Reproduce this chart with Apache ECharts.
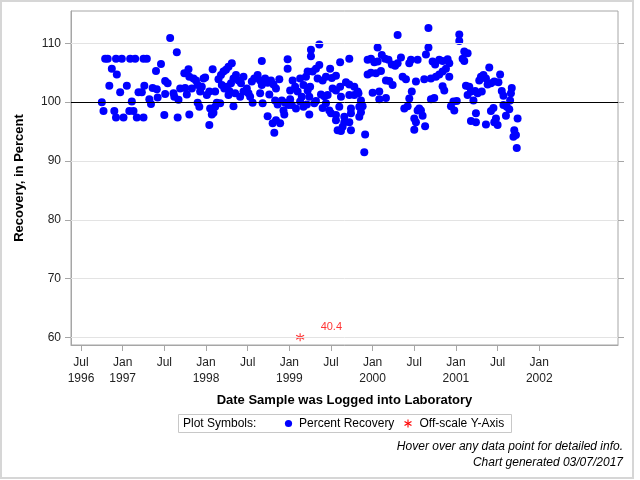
<!DOCTYPE html>
<html>
<head>
<meta charset="utf-8">
<script src="https://cdn.jsdelivr.net/npm/echarts@6/dist/echarts.min.js"></script>
<style>
html,body{margin:0;padding:0;background:#fff;}
#chart{width:640px;height:480px;}
</style>
</head>
<body>
<div id="chart"></div>
<script>
// Sample log dates as decimal years
var sampleDates = [
1996.75,1996.77,1996.79,1996.82,1996.84,1996.87,1996.90,1996.92,1996.92,1996.93,
1996.97,1996.99,1997.01,1997.05,1997.08,1997.09,1997.11,1997.13,1997.15,1997.17,
1997.19,1997.23,1997.25,1997.25,1997.26,1997.29,1997.32,1997.34,1997.36,1997.40,
1997.41,1997.42,1997.46,1997.50,1997.51,1997.51,1997.54,1997.57,1997.61,1997.62,
1997.65,1997.66,1997.67,1997.69,1997.75,1997.74,1997.79,1997.80,1997.80,1997.77,
1997.83,1997.85,1997.88,1997.90,1997.90,1997.92,1997.93,1997.97,1997.95,
1997.99,1998.01,1998.04,1998.08,1998.11,1998.05,1998.09,1998.07,1998.11,1998.13,
1998.17,1998.04,1998.15,1998.18,1998.21,1998.24,1998.27,1998.31,1998.19,1998.22,
1998.25,1998.28,1998.30,1998.33,1998.36,1998.39,1998.42,1998.45,1998.33,1998.27,
1998.35,1998.41,1998.45,1998.49,1998.51,1998.53,1998.56,1998.55,1998.58,1998.62,
1998.65,1998.67,1998.71,1998.74,1998.78,1998.81,1998.84,1998.88,1998.67,1998.68,
1998.65,1998.76,1998.83,1998.86,1998.74,1998.80,1998.84,1998.89,1998.82,1998.93,
1998.94,1998.91,1998.95,1998.99,1998.98,1998.98,1999.01,1999.04,1999.07,1999.10,
1999.13,1999.17,1999.20,1999.22,1999.25,1999.03,1999.08,1999.13,1999.17,1999.21,
1999.24,1999.26,1999.26,1999.01,1999.15,
1999.36,1999.22,1999.28,1999.32,1999.36,1999.34,1999.40,1999.44,1999.51,1999.56,
1999.49,1999.61,1999.72,1999.24,1999.30,1999.32,1999.38,1999.42,1999.46,1999.52,
1999.56,1999.61,1999.62,1999.68,1999.72,1999.78,1999.82,1999.72,1999.78,1999.83,
1999.86,1999.40,1999.44,1999.48,1999.50,1999.56,1999.60,1999.66,1999.66,1999.72,
1999.74,1999.74,1999.84,1999.84,1999.86,1999.88,1999.56,1999.58,1999.62,1999.64,
1999.74,1999.91,1999.90,2000.30,2000.06,1999.94,1999.98,2000.02,2000.06,2000.11,
2000.15,2000.19,2000.23,2000.27,2000.30,2000.34,2000.44,2000.46,2000.54,1999.94,
1999.98,2000.04,2000.10,2000.16,2000.20,2000.24,2000.36,2000.40,2000.52,2000.00,
2000.08,2000.08,2000.16,2000.38,2000.42,2000.44,2000.47,2000.54,2000.50,2000.50,
2000.67,2000.67,2000.64,2000.72,2000.75,2000.80,2000.84,2000.90,2000.92,2000.88,
2000.84,2000.80,2000.76,2000.70,2000.62,2000.92,2000.84,2000.86,2000.70,2000.74,
2000.56,2000.58,2000.60,2000.63,2000.52,2000.94,2000.97,2001.01,2000.98,2001.04,
2001.04,2001.10,2001.14,2001.08,2001.10,2001.12,2001.16,2001.14,2001.18,2001.21,
2001.23,2001.26,2001.31,2001.28,2001.30,2001.33,2001.36,2001.38,2001.40,2001.42,
2001.46,2001.53,2001.51,2001.24,2001.18,2001.24,2001.36,2001.45,2001.42,2001.48,
2001.46,2001.50,2001.60,2001.55,2001.57,2001.67,2001.66,2001.65,2001.57,2001.61,
2001.64,2001.74,2001.70,2001.72,2001.69,2001.73
];
// Percent recovery values
var recovery = [
100.0,98.5,107.4,107.4,102.8,105.7,98.5,107.4,97.4,104.7,
101.7,107.4,97.4,102.8,98.5,107.4,100.1,98.5,107.4,97.4,
101.7,101.7,107.4,97.4,102.8,107.4,100.5,99.7,102.4,105.3,
102.2,100.8,106.5,97.8,103.6,101.4,103.2,110.9,101.5,100.9,
108.5,97.4,100.4,102.3,102.4,104.9,105.6,104.3,97.9,101.3,
102.3,104.0,103.7,99.9,102.9,99.2,101.8,104.0,102.6,
104.2,101.2,101.8,105.6,101.8,98.9,98.2,97.9,99.2,99.9,
99.8,96.1,103.9,104.6,105.2,105.5,106.0,106.6,102.9,102.3,
102.6,101.9,103.2,104.0,104.6,103.7,103.2,104.3,99.3,101.2,
101.5,100.9,101.8,102.3,101.5,100.9,99.9,103.5,104.0,104.6,
103.7,102.9,104.0,103.3,103.7,103.0,102.3,103.9,107.0,99.8,
101.5,101.3,100.3,99.6,97.6,96.4,96.9,96.4,94.8,98.6,
97.9,100.3,99.9,99.5,107.3,105.7,102.0,103.7,102.6,101.8,
104.0,102.9,104.3,102.0,102.6,99.5,98.9,100.1,99.2,99.6,
97.9,108.9,107.8,100.5,100.9,
109.8,105.2,105.2,105.7,106.3,104.0,103.7,104.3,104.1,104.5,
105.7,106.8,107.4,100.9,99.8,100.2,101.3,101.0,101.2,102.3,
102.0,102.6,100.9,103.4,103.0,102.6,101.8,101.2,101.2,101.5,
100.3,99.0,99.8,98.6,98.1,97.8,99.2,97.5,96.6,96.6,
98.1,98.9,99.2,97.5,98.3,99.3,96.9,95.2,95.1,95.8,
95.2,94.5,91.5,111.4,109.3,107.2,107.4,106.8,106.9,108.0,
107.4,107.2,106.4,106.2,106.6,107.6,106.6,107.2,107.2,104.7,
105.0,104.9,105.3,103.7,103.6,102.9,104.3,103.9,103.5,101.6,
101.8,100.5,100.7,98.9,99.3,100.6,101.8,98.6,97.2,95.3,
112.6,109.3,108.1,106.9,106.4,107.2,107.0,107.3,106.6,105.7,
105.2,104.7,104.3,104.0,103.9,104.3,102.7,102.0,100.5,100.7,
98.9,98.6,97.7,95.9,96.6,99.3,100.1,100.2,98.6,111.5,
110.4,108.6,108.3,107.4,107.0,102.8,102.6,101.2,101.8,100.3,
101.9,101.5,101.8,103.7,104.3,104.6,104.0,103.0,105.9,103.2,
103.5,104.7,103.4,98.1,96.8,96.6,96.2,99.0,98.5,97.2,
96.6,96.1,97.7,101.9,101.1,102.4,101.5,100.3,99.5,99.2,
98.8,97.2,95.2,94.4,94.1,92.2
];
// Off-scale point (plotted at the axis floor, true value as label)
var offDates = [1999.13];
var offPlotted = [60];
var offActual = ['40.4'];

var xTickValues = [1996.5,1997,1997.5,1998,1998.5,1999,1999.5,2000,2000.5,2001,2001.5,2002];
var xTickLabels = ['Jul\n1996','Jan\n1997','Jul','Jan\n1998','Jul','Jan\n1999','Jul','Jan\n2000','Jul','Jan\n2001','Jul','Jan\n2002'];
var yTickValues = [60,70,80,90,100,110];
var referenceValue = 100;

var FONT = '"Liberation Sans", Arial, Helvetica, sans-serif';
var GREY = '#a6a6a6';

var points = sampleDates.map(function(d,i){ return [d, recovery[i]]; });
var offPoints = offDates.map(function(d,i){ return [d, offPlotted[i], offActual[i]]; });

var gridLines = yTickValues.filter(function(v){return v!==referenceValue;}).map(function(v){
  return {yAxis: v, lineStyle:{color:'#e3e3e3', width:1, type:'solid'}};
});
gridLines.push({yAxis: referenceValue, lineStyle:{color:'#000', width:1, type:'solid'}});

var asteriskPath = 'path://M0,-5L0,5M-4.33,-2.5L4.33,2.5M-4.33,2.5L4.33,-2.5';

function asteriskLines(cx, cy, r){
  var a = r*0.866, b = r*0.5;
  var st = {stroke:'#ff0000', lineWidth:1.1};
  return [
    {type:'line', shape:{x1:cx, y1:cy-r, x2:cx, y2:cy+r}, style:st, silent:true},
    {type:'line', shape:{x1:cx-a, y1:cy-b, x2:cx+a, y2:cy+b}, style:st, silent:true},
    {type:'line', shape:{x1:cx-a, y1:cy+b, x2:cx+a, y2:cy-b}, style:st, silent:true}
  ];
}

var graphics = [
  {type:'rect', shape:{x:1, y:1, width:632, height:477}, style:{fill:'none', stroke:'#d6d6d6', lineWidth:2}, silent:true},
  {type:'rect', shape:{x:178.5, y:414.5, width:333, height:18}, style:{fill:'none', stroke:'#c8c8c8', lineWidth:1}, silent:true},
  {type:'text', x:183, y:423.5, style:{text:'Plot Symbols:', font:'12px '+FONT, fill:'#000', verticalAlign:'middle', align:'left'}},
  {type:'circle', shape:{cx:288.5, cy:423.5, r:3.6}, style:{fill:'#0000ff'}},
  {type:'text', x:299, y:423.5, style:{text:'Percent Recovery', font:'12px '+FONT, fill:'#000', verticalAlign:'middle', align:'left'}},
  {type:'text', x:419.5, y:423.5, style:{text:'Off-scale Y-Axis', font:'12px '+FONT, fill:'#000', verticalAlign:'middle', align:'left'}},
  {type:'text', x:623, y:446.5, style:{text:'Hover over any data point for detailed info.', font:'italic 12px '+FONT, fill:'#000', verticalAlign:'middle', align:'right'}},
  {type:'text', x:623, y:462.5, style:{text:'Chart generated 03/07/2017', font:'italic 12px '+FONT, fill:'#000', verticalAlign:'middle', align:'right'}}
].concat(asteriskLines(408, 423.5, 4));

var chart = echarts.init(document.getElementById('chart'), null, {renderer:'canvas'});
chart.setOption({
  animation:false,
  backgroundColor:'#fff',
  textStyle:{fontFamily:FONT},
  grid:{left:71, right:22, top:11, bottom:135, show:true, borderColor:GREY, borderWidth:1, backgroundColor:'transparent'},
  xAxis:{
    type:'value', min:1996.38, max:2002.945,
    axisLine:{show:true, lineStyle:{color:GREY}},
    axisTick:{show:true, customValues:xTickValues, length:6, lineStyle:{color:GREY}},
    axisLabel:{customValues:xTickValues, color:'#222', fontSize:12, fontFamily:FONT, lineHeight:16, margin:10,
      formatter:function(v){ for(var i=0;i<xTickValues.length;i++){ if(Math.abs(xTickValues[i]-v)<1e-6) return xTickLabels[i]; } return ''; }},
    splitLine:{show:false},
    name:'Date Sample was Logged into Laboratory', nameLocation:'middle', nameGap:49,
    nameTextStyle:{fontWeight:'bold', fontSize:13, color:'#000', fontFamily:FONT}
  },
  yAxis:[{
    type:'value', min:58.7, max:115.5,
    axisLine:{show:true, lineStyle:{color:GREY}},
    axisTick:{show:true, customValues:yTickValues, length:6, lineStyle:{color:GREY}},
    axisLabel:{customValues:yTickValues, color:'#222', fontSize:12, fontFamily:FONT, margin:10},
    splitLine:{show:false},
    name:'Recovery, in Percent', nameLocation:'middle', nameGap:45,
    nameTextStyle:{fontWeight:'bold', fontSize:13, color:'#000', fontFamily:FONT}
  },{
    type:'value', min:58.7, max:115.5, position:'right',
    axisLine:{show:false},
    axisTick:{show:true, customValues:yTickValues, length:6, lineStyle:{color:GREY}},
    axisLabel:{show:false},
    splitLine:{show:false}
  }],
  series:[{
    type:'line', data:[], z:1, silent:true,
    markLine:{silent:true, symbol:'none', animation:false, label:{show:false}, data:gridLines}
  },{
    name:'Percent Recovery', type:'scatter', data:points, z:3,
    symbol:'circle', symbolSize:8,
    itemStyle:{color:'#0000ff', opacity:1}
  },{
    name:'Off-scale Y-Axis', type:'scatter', data:offPoints, z:4,
    symbol:asteriskPath, symbolSize:8,
    itemStyle:{color:'none', borderColor:'#ff0000', borderWidth:1.1},
    label:{show:true, position:'right', distance:5, offset:[9,-10], color:'#ff0000', fontSize:11, fontFamily:FONT,
      formatter:function(p){return p.data[2];}}
  }],
  graphic:graphics
});
</script>
</body>
</html>
